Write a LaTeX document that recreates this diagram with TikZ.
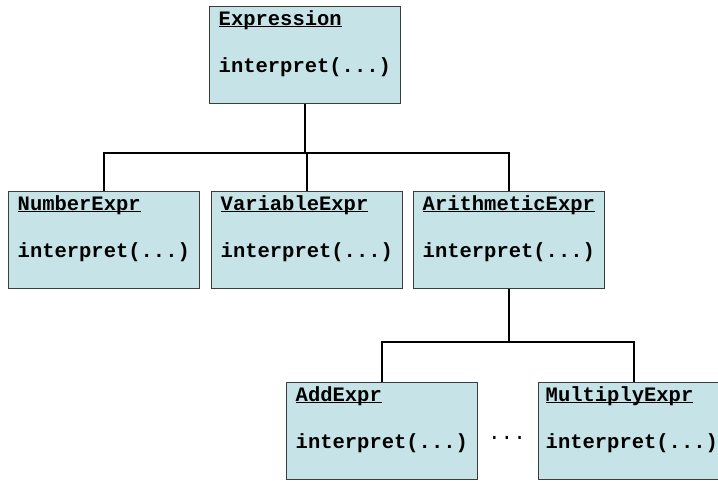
\documentclass[tikz,border=0pt]{standalone}
\usepackage{fontspec}
\setmainfont{Liberation Mono}
\definecolor{boxfill}{RGB}{198,228,232}
\definecolor{boxline}{RGB}{60,60,60}
\begin{document}
\begin{tikzpicture}[x=1pt,y=-1pt,
  cls/.style={draw=boxline, line width=1.2pt, fill=boxfill, rectangle,
    minimum width=191pt, minimum height=97pt, inner sep=0pt, anchor=north west},
  ttl/.style={anchor=base west, inner sep=0pt, font=\fontsize{20.5}{25}\selectfont\bfseries},
  conn/.style={draw=black, line width=2.2pt}]
\useasboundingbox (0,0) rectangle (718,480);
\clip (0,0) rectangle (718,480);
% boxes
\node[cls] (expr) at (209,6) {};
\node[cls] (num) at (8,191) {};
\node[cls] (var) at (211,191) {};
\node[cls] (ari) at (413,191) {};
\node[cls] (add) at (286,382) {};
\node[cls] (mul) at (538,382) {};
% texts
\foreach \b/\t/\dx in {expr/Expression/9.5, num/NumberExpr/9.5, var/VariableExpr/9.5, ari/ArithmeticExpr/9.5, add/AddExpr/9.5, mul/MultiplyExpr/7.5}{
  \node[ttl] (\b-title) at ([xshift=\dx pt,yshift=-19pt]\b.north west) {\underline{\smash{\t}}};
  \node[ttl] (\b-op) at ([xshift=\dx pt,yshift=-66pt]\b.north west) {interpret(...)};
}
\node[anchor=base, inner sep=0pt, font=\fontsize{21}{25}\selectfont] (dots) at (507,439) {...};
% connectors
\coordinate (j1) at (expr.south |- 0,153);
\coordinate (j2) at (ari.south |- 0,342);
\draw[conn] (expr.south) -- (j1);
\draw[conn] (num.north) |- (j1) -| (ari.north);
\draw[conn] (var.north) -- (var.north |- j1);
\draw[conn] (ari.south) -- (j2);
\draw[conn] (add.north) |- (j2) -| (mul.north);
\end{tikzpicture}
\end{document}
